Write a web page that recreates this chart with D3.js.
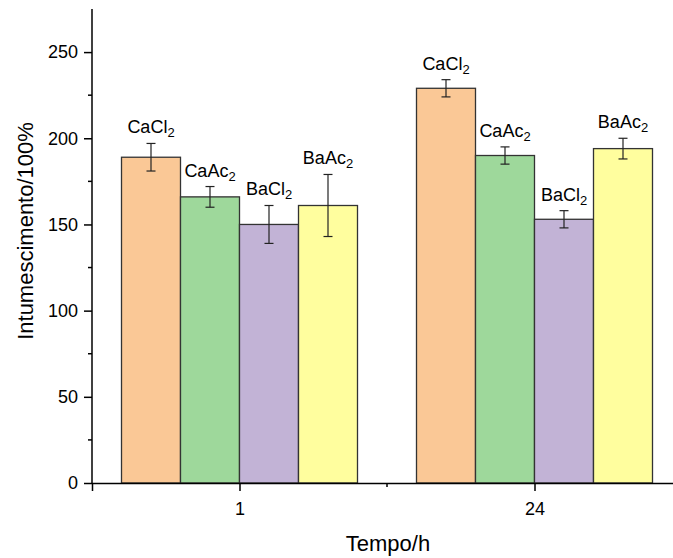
<!DOCTYPE html>
<html>
<head>
<meta charset="utf-8">
<script src="https://cdn.jsdelivr.net/npm/d3@7"></script>
<style>
  body { margin: 0; background: #fff; }
  text { font-family: "Liberation Sans", Arial, sans-serif; fill: #000; }
</style>
</head>
<body>
<svg id="chart"></svg>
<script>
const W = 673, H = 558;

// data
const times = ["1", "24"];
const salts = ["CaCl", "CaAc", "BaCl", "BaAc"];
const colors = ["#FAC896", "#9ED89B", "#C2B3D6", "#FFFE9E"];
const means = [
  [189, 166, 150, 161],
  [229, 190, 153, 194]
];
const errors = [
  [8, 6, 11, 18],
  [5, 5, 5, 6]
];
const yTicks = [0, 50, 100, 150, 200, 250];

const svg = d3.select("#chart")
  .attr("width", W)
  .attr("height", H);

const plotLeft = 92, plotBottom = 483, plotTop = 9;

// categories sit at 1 and 2 on a linear scale
const xScale = d3.scaleLinear().domain([0.5, 2.5]).range([plotLeft, 682]);
const yScale = d3.scaleLinear().domain([0, 275]).range([plotBottom, plotTop]);
const barW = 0.2;

const rows = [];
times.forEach((t, gi) => {
  salts.forEach((s, si) => {
    rows.push({
      gi, si,
      x0: gi + 1 - 2 * barW + si * barW,
      v: means[gi][si],
      e: errors[gi][si],
      name: s
    });
  });
});

// bars
svg.selectAll(".bar")
  .data(rows)
  .join("rect")
  .attr("class", "bar")
  .attr("x", d => xScale(d.x0))
  .attr("width", d => xScale(d.x0 + barW) - xScale(d.x0))
  .attr("y", d => yScale(d.v))
  .attr("height", d => yScale(0) - yScale(d.v))
  .attr("fill", d => colors[d.si])
  .attr("stroke", "#333")
  .attr("stroke-width", 1.3);

// error bars
const eb = svg.selectAll(".err")
  .data(rows)
  .join("g")
  .attr("class", "err")
  .attr("stroke", "#222")
  .attr("stroke-width", 1.2);

eb.append("line")
  .attr("x1", d => xScale(d.x0 + barW / 2))
  .attr("x2", d => xScale(d.x0 + barW / 2))
  .attr("y1", d => yScale(d.v + d.e))
  .attr("y2", d => yScale(d.v - d.e));

[1, -1].forEach(sign => {
  eb.append("line")
    .attr("x1", d => xScale(d.x0 + barW / 2) - 4.5)
    .attr("x2", d => xScale(d.x0 + barW / 2) + 4.5)
    .attr("y1", d => yScale(d.v + sign * d.e))
    .attr("y2", d => yScale(d.v + sign * d.e));
});

// labels with subscript 2
const lab = svg.selectAll(".lab")
  .data(rows)
  .join("text")
  .attr("class", "lab")
  .attr("x", d => xScale(d.x0 + barW / 2))
  .attr("y", d => yScale(d.v + d.e) - 10)
  .attr("text-anchor", "middle")
  .attr("font-size", 18);
lab.append("tspan").text(d => d.name);
lab.append("tspan")
  .attr("font-size", 13)
  .attr("dy", 4)
  .text("2");

// y axis
const yAxis = d3.axisLeft(yScale)
  .tickValues(yTicks)
  .tickSize(8)
  .tickPadding(6)
  .tickFormat(d3.format("d"));

const gy = svg.append("g")
  .attr("transform", `translate(${plotLeft},0)`)
  .call(yAxis);
gy.select(".domain").attr("d", `M0,${plotTop}V${plotBottom}`);

const yMinor = d3.range(25, 275, 50);
gy.selectAll(".minor")
  .data(yMinor)
  .join("line")
  .attr("class", "minor")
  .attr("x1", -4).attr("x2", 0)
  .attr("y1", d => yScale(d)).attr("y2", d => yScale(d))
  .attr("stroke", "#000");

// x axis
const xAxis = d3.axisBottom(xScale)
  .tickValues([1, 2])
  .tickSize(8)
  .tickPadding(11)
  .tickFormat((d, i) => times[i]);

const gx = svg.append("g")
  .attr("transform", `translate(0,${plotBottom})`)
  .call(xAxis);

gx.append("line")
  .attr("x1", xScale(1.5)).attr("x2", xScale(1.5))
  .attr("y1", 0).attr("y2", 4)
  .attr("stroke", "#000");

[gx, gy].forEach(g => {
  g.selectAll("text").attr("font-size", 18).attr("font-family", "Liberation Sans, Arial, sans-serif").attr("fill", "#000");
  g.selectAll("line, path").attr("stroke", "#000").attr("stroke-width", 1.5);
});

// axis titles
svg.append("text")
  .attr("x", 388)
  .attr("y", 551)
  .attr("text-anchor", "middle")
  .attr("font-size", 22)
  .text("Tempo/h");

svg.append("text")
  .attr("transform", "translate(33,231) rotate(-90)")
  .attr("text-anchor", "middle")
  .attr("font-size", 22)
  .text("Intumescimento/100%");
</script>
</body>
</html>
